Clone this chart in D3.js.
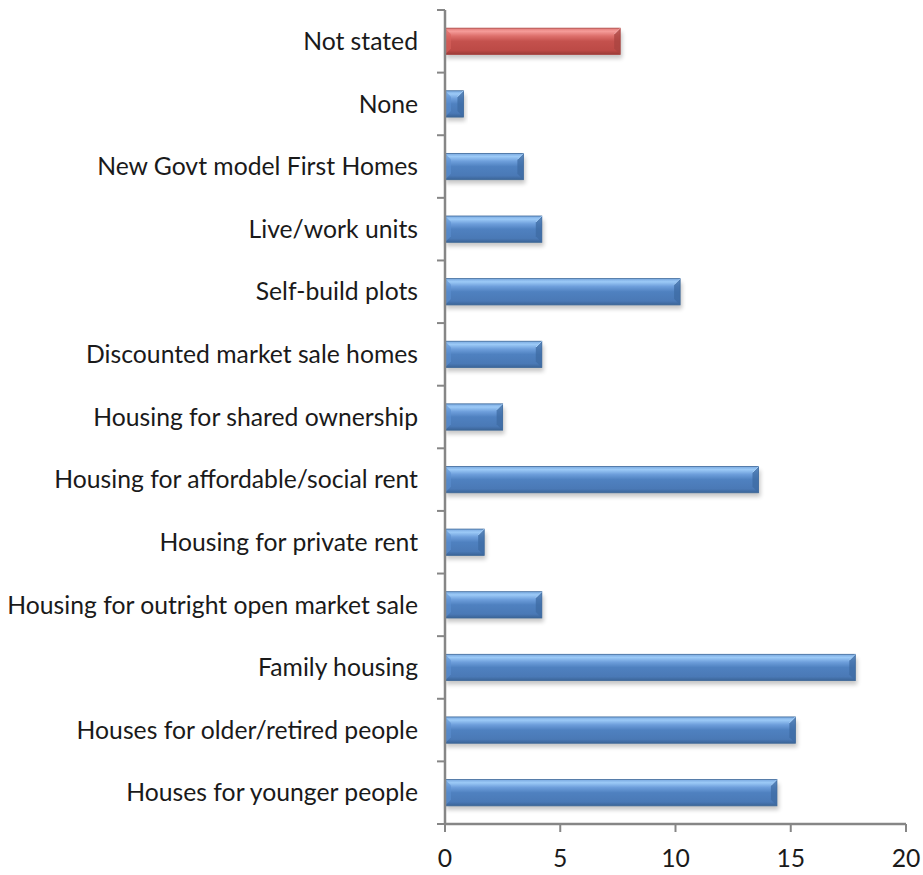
<!DOCTYPE html>
<html>
<head>
<meta charset="utf-8">
<script src="https://cdn.jsdelivr.net/npm/d3@7"></script>
<style>
  html, body { margin: 0; padding: 0; background: #fff; }
  svg { display: block; }
  text { font-family: Lato, "Open Sans", sans-serif; fill: #1a1a1a; }
</style>
</head>
<body>
<svg id="chart" width="923" height="875"></svg>
<script>
// Housing types wanted (% of respondents), listed top to bottom
const categories = [
  "Not stated",
  "None",
  "New Govt model First Homes",
  "Live/work units",
  "Self-build plots",
  "Discounted market sale homes",
  "Housing for shared ownership",
  "Housing for affordable/social rent",
  "Housing for private rent",
  "Housing for outright open market sale",
  "Family housing",
  "Houses for older/retired people",
  "Houses for younger people"
];
const values = [7.6, 0.8, 3.4, 4.2, 10.2, 4.2, 2.5, 13.6, 1.7, 4.2, 17.8, 15.2, 14.4];
const highlighted = ["Not stated"];
const xTicks = [0, 5, 10, 15, 20];

const svg = d3.select("#chart");
const margin = { top: 10, right: 17, bottom: 51, left: 445 };
const width = 923 - margin.left - margin.right;
const height = 875 - margin.top - margin.bottom;

const x = d3.scaleLinear().domain([0, 20]).range([0, width]);
const y = d3.scaleBand().domain(categories).range([0, height]).paddingInner(0.58).paddingOuter(0.29);

const defs = svg.append("defs");

// Bevelled bar gradients
function gradient(id, stops) {
  const g = defs.append("linearGradient").attr("id", id)
    .attr("x1", 0).attr("y1", 0).attr("x2", 0).attr("y2", 1);
  stops.forEach(([o, c]) => g.append("stop").attr("offset", o).attr("stop-color", c));
}
gradient("gBlue", [[0, "#7aa9e0"], [0.12, "#9ccaf7"], [0.3, "#6d9edb"], [0.5, "#4f81c0"], [0.85, "#4a79b6"], [1, "#3b6497"]]);
gradient("gRed", [[0, "#e27b78"], [0.12, "#f59c99"], [0.3, "#dd6f6b"], [0.5, "#c4514d"], [0.85, "#bc4a46"], [1, "#9a3b38"]]);

const blur = defs.append("filter").attr("id", "shadow")
  .attr("x", "-10%").attr("y", "-50%").attr("width", "120%").attr("height", "200%");
blur.append("feGaussianBlur").attr("stdDeviation", 2.2);

const g = svg.append("g").attr("transform", `translate(${margin.left},${margin.top})`);

const bars = g.append("g").selectAll("g.bar").data(categories).join("g").attr("class", "bar");

const isRed = d => highlighted.includes(d);
const val = d => values[categories.indexOf(d)];

// soft drop shadow
bars.append("rect")
  .attr("x", 1)
  .attr("y", d => y(d) + 4)
  .attr("width", d => x(val(d)) + 1)
  .attr("height", y.bandwidth())
  .attr("fill", "#000")
  .attr("opacity", 0.22)
  .attr("filter", "url(#shadow)");

// bar body
bars.append("rect")
  .attr("x", 0)
  .attr("y", d => y(d))
  .attr("width", d => x(val(d)))
  .attr("height", y.bandwidth())
  .attr("fill", d => isRed(d) ? "url(#gRed)" : "url(#gBlue)")
  .attr("stroke", d => isRed(d) ? "#a94441" : "#3d6899")
  .attr("stroke-width", 0.8);

// bevel faces at the ends
const bev = 6;
bars.append("path")
  .attr("d", d => {
    const x1 = x(val(d)), y0 = y(d), y1 = y(d) + y.bandwidth();
    const b = Math.min(bev, x1 / 2);
    return `M${x1},${y0}L${x1},${y1}L${x1 - b},${y1 - bev}L${x1 - b},${y0 + bev}Z`;
  })
  .attr("fill", d => isRed(d) ? "#a84440" : "#3e6ba3")
  .attr("opacity", 0.75);
bars.append("path")
  .attr("d", d => {
    const x1 = x(val(d)), y0 = y(d);
    const b = Math.min(bev, x1 / 2);
    return `M${x1},${y0}L${x1 - b},${y0 + bev}`;
  })
  .attr("stroke", d => isRed(d) ? "#f3aaa8" : "#a8d0f8")
  .attr("stroke-width", 1);
bars.append("path")
  .attr("d", d => {
    const y0 = y(d), y1 = y(d) + y.bandwidth();
    return `M0,${y0}L${bev},${y0 + bev}L${bev},${y1 - bev}L0,${y1}Z`;
  })
  .attr("fill", d => isRed(d) ? "#d9625e" : "#5b8fd0")
  .attr("opacity", 0.6);

// axes
const axisColor = "#868686";
const yAxis = g.append("g");
yAxis.append("line").attr("x1", 0).attr("x2", 0).attr("y1", 0).attr("y2", height)
  .attr("stroke", axisColor).attr("stroke-width", 2.5);
const boundaries = categories.map(c => y(c) - y.step() * y.paddingInner() / 2);
boundaries.push(height);
boundaries[0] = 0;
yAxis.selectAll("line.tick").data(boundaries).join("line").attr("class", "tick")
  .attr("x1", -8).attr("x2", 0).attr("y1", d => d).attr("y2", d => d)
  .attr("stroke", axisColor).attr("stroke-width", 2);

const labels = yAxis.selectAll("text").data(categories).join("text")
  .attr("x", -27)
  .attr("y", d => y(d) + y.bandwidth() / 2)
  .attr("dy", "0.35em")
  .attr("text-anchor", "end")
  .attr("font-size", 22)
  .text(d => d);

// fit the longest label to the available width
let maxW = 0;
labels.each(function () { maxW = Math.max(maxW, this.getComputedTextLength()); });
const fs = 22 * 411 / maxW;
labels.attr("font-size", fs);

const xAxis = g.append("g").attr("transform", `translate(0,${height})`);
xAxis.append("line").attr("x1", 0).attr("x2", width).attr("y1", 0).attr("y2", 0)
  .attr("stroke", axisColor).attr("stroke-width", 2.5);
xAxis.selectAll("line.tick").data(xTicks).join("line").attr("class", "tick")
  .attr("x1", d => x(d)).attr("x2", d => x(d)).attr("y1", 0).attr("y2", 8)
  .attr("stroke", axisColor).attr("stroke-width", 2);
xAxis.selectAll("text").data(xTicks).join("text")
  .attr("x", d => x(d))
  .attr("y", 34)
  .attr("dy", "0.35em")
  .attr("text-anchor", "middle")
  .attr("font-size", fs)
  .text(d => d);
</script>
</body>
</html>
